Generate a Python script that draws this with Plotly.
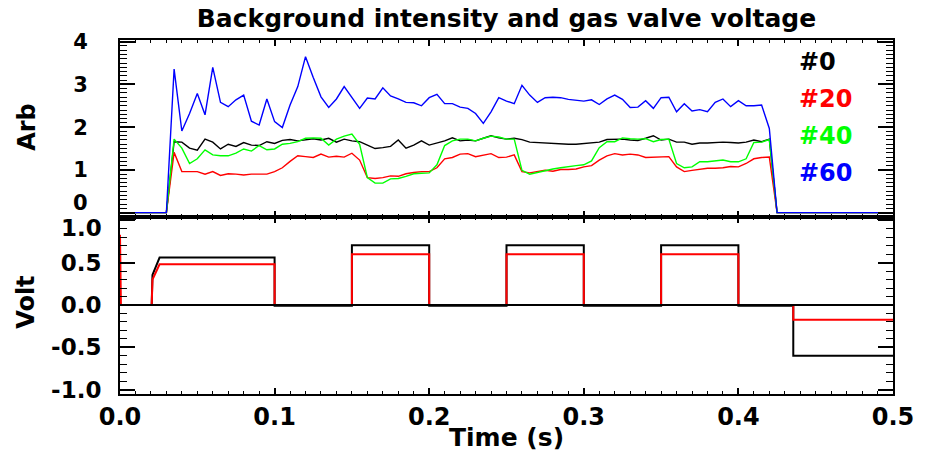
import plotly.graph_objects as go

# ---- sample times of the intensity signals (5 ms steps while the beam is on) ----
t_on = [round(0.035 + 0.005 * i, 3) for i in range(78)]   # 0.035 ... 0.420
t_intensity = [0.0, 0.03] + t_on + [0.425, 0.5]

# ---- background intensity (arb.) for the four channels, 0.035 ... 0.420 s ----
ch0 = [1.66, 1.65, 1.51, 1.46, 1.72, 1.65, 1.49, 1.60, 1.55, 1.64, 1.58, 1.57, 1.66, 1.62, 1.69, 1.71, 1.68, 1.70, 1.73,
       1.70, 1.74, 1.65, 1.72, 1.68, 1.66, 1.58, 1.50, 1.52, 1.55, 1.70, 1.51, 1.58, 1.68, 1.58, 1.63, 1.68, 1.75, 1.68, 1.70,
       1.68, 1.74, 1.80, 1.75, 1.72, 1.74, 1.71, 1.65, 1.64, 1.63, 1.61, 1.61, 1.60, 1.60, 1.62, 1.63, 1.65, 1.71, 1.71, 1.72,
       1.70, 1.69, 1.74, 1.80, 1.70, 1.72, 1.65, 1.65, 1.60, 1.63, 1.63, 1.64, 1.65, 1.64, 1.63, 1.65, 1.70, 1.66, 1.72]
ch20 = [1.41, 0.96, 0.96, 0.96, 0.90, 0.96, 0.87, 0.91, 0.90, 0.88, 0.90, 0.90, 0.90, 0.96, 1.05, 1.20, 1.33, 1.31, 1.29,
        1.37, 1.30, 1.32, 1.30, 1.39, 1.23, 0.82, 0.80, 0.82, 0.86, 0.85, 0.91, 0.94, 0.96, 0.96, 1.05, 1.26, 1.29, 1.37, 1.38,
        1.31, 1.35, 1.38, 1.29, 1.30, 1.35, 0.96, 0.93, 0.96, 0.99, 0.97, 1.01, 1.01, 1.02, 1.07, 1.10, 1.23, 1.33, 1.38, 1.35,
        1.37, 1.35, 1.29, 1.30, 1.30, 1.31, 1.07, 0.96, 0.99, 1.01, 1.04, 1.04, 1.05, 1.08, 1.07, 1.15, 1.26, 1.29, 1.30]
ch40 = [1.72, 1.51, 1.15, 1.26, 1.47, 1.35, 1.33, 1.33, 1.39, 1.49, 1.44, 1.57, 1.47, 1.49, 1.60, 1.62, 1.66, 1.74, 1.75,
        1.74, 1.58, 1.72, 1.79, 1.84, 1.60, 0.82, 0.69, 0.69, 0.79, 0.80, 0.85, 0.91, 0.92, 0.93, 1.12, 1.57, 1.68, 1.72, 1.72,
        1.68, 1.74, 1.79, 1.77, 1.72, 1.72, 0.99, 0.90, 0.94, 0.99, 1.02, 1.05, 1.08, 1.10, 1.12, 1.21, 1.52, 1.66, 1.66, 1.75,
        1.73, 1.72, 1.73, 1.66, 1.71, 1.72, 1.15, 1.05, 1.07, 1.19, 1.19, 1.21, 1.23, 1.19, 1.19, 1.26, 1.64, 1.65, 1.71]
ch60 = [3.36, 1.91, 2.32, 2.79, 2.29, 3.40, 2.58, 2.48, 2.64, 2.75, 2.14, 2.05, 2.66, 2.13, 1.99, 2.52, 2.95, 3.65, 3.16,
        2.71, 2.46, 2.66, 2.95, 2.69, 2.44, 2.68, 2.66, 2.92, 2.73, 2.66, 2.58, 2.57, 2.50, 2.69, 2.77, 2.55, 2.55, 2.47, 2.44,
        2.32, 2.09, 2.36, 2.69, 2.61, 2.55, 2.98, 2.75, 2.58, 2.69, 2.70, 2.69, 2.65, 2.63, 2.61, 2.64, 2.53, 2.66, 2.75, 2.65,
        2.46, 2.47, 2.62, 2.44, 2.69, 2.70, 2.36, 2.55, 2.38, 2.41, 2.36, 2.58, 2.66, 2.48, 2.62, 2.50, 2.50, 2.52, 1.97]
channel_names = ["#0", "#20", "#40", "#60"]
channel_colors = ["#000000", "#ff0000", "#00ff00", "#0000ff"]

# ---- gas valve voltage: two traces, stored as step corners ----
t_valve_a = [0.0, 0.0205, 0.021, 0.0256, 0.1, 0.1, 0.15, 0.15, 0.2, 0.2, 0.25, 0.25, 0.3, 0.3,
             0.35, 0.35, 0.4, 0.4, 0.4355, 0.4355, 0.5]
v_valve_a = [0.0, 0.0, 0.355, 0.56, 0.56, -0.008, -0.008, 0.705, 0.705, -0.008, -0.008, 0.705, 0.705, -0.008,
             -0.008, 0.705, 0.705, -0.008, -0.008, -0.60, -0.60]
t_valve_b = [0.0, 0.0006, 0.0205, 0.021, 0.0256, 0.1, 0.1, 0.15, 0.15, 0.2, 0.2, 0.25, 0.25, 0.3, 0.3,
             0.35, 0.35, 0.4, 0.4, 0.4355, 0.4355, 0.5]
v_valve_b = [0.83, 0.0, 0.0, 0.30, 0.48, 0.48, 0.0, 0.0, 0.60, 0.60, 0.0, 0.0, 0.60, 0.60, 0.0,
             0.0, 0.60, 0.60, 0.0, 0.0, -0.175, -0.175]

# ---- axis tick labels ----
arb_ticks = [0, 1, 2, 3, 4]
arb_labels = ["0", "1", "2", "3", "4"]
volt_ticks = [-1.0, -0.5, 0.0, 0.5, 1.0]
volt_labels = ["-1.0", "-0.5", "0.0", "0.5", "1.0"]
time_ticks = [0.0, 0.1, 0.2, 0.3, 0.4, 0.5]
time_labels = ["0.0", "0.1", "0.2", "0.3", "0.4", "0.5"]

FONT = "DejaVu Sans"

fig = go.Figure()

for vals, name, color in zip([ch0, ch20, ch40, ch60], channel_names, channel_colors):
    fig.add_trace(go.Scatter(
        x=t_intensity, y=[0.0, 0.0] + vals + [0.0, 0.0], mode="lines", name=name,
        line=dict(color=color, width=1.4), xaxis="x", yaxis="y", showlegend=False))

fig.add_trace(go.Scatter(x=t_valve_a, y=v_valve_a, mode="lines", line=dict(color="#000000", width=2),
                         xaxis="x2", yaxis="y2", showlegend=False))
fig.add_trace(go.Scatter(x=t_valve_b, y=v_valve_b, mode="lines", line=dict(color="#ff0000", width=2),
                         xaxis="x2", yaxis="y2", showlegend=False))

split = 0.501
tickfont_arb = dict(family=FONT, size=21, color="black", weight="bold")
tickfont_volt = dict(family=FONT, size=23, color="black", weight="bold")
tickfont_x = dict(family=FONT, size=24, color="black", weight="bold")

common_x = dict(range=[0, 0.5], showline=True, linewidth=2, linecolor="black", mirror="allticks",
                ticks="inside", ticklen=6, tickwidth=1.5, tickcolor="black",
                tickmode="array", tickvals=time_ticks, showgrid=False, zeroline=False,
                minor=dict(ticks="inside", ticklen=3, tickwidth=1.2, tickcolor="black",
                           tickmode="linear", tick0=0, dtick=0.01, showgrid=False))
common_y = dict(showline=True, linewidth=2, linecolor="black", mirror="allticks",
                ticks="inside", ticklen=15, tickwidth=1.5, tickcolor="black",
                showgrid=False, zeroline=False, tickmode="array")

# the end labels where the two panels meet are placed separately, nudged apart
arb_axis_text = [("" if v == 0 else s) for v, s in zip(arb_ticks, arb_labels)]
volt_axis_text = [("" if v == 1.0 else s) for v, s in zip(volt_ticks, volt_labels)]

fig.update_layout(
    width=926, height=452,
    margin=dict(l=120, r=26, t=40, b=58),
    paper_bgcolor="white", plot_bgcolor="white",
    xaxis=dict(anchor="y", showticklabels=False, **common_x),
    xaxis2=dict(anchor="y2", showticklabels=True, ticktext=time_labels, tickfont=tickfont_x,
                ticklabelstandoff=0, **common_x),
    yaxis=dict(domain=[split, 1], anchor="x", range=[-0.094, 4.04],
               tickvals=arb_ticks, ticktext=arb_axis_text, ticklabelstandoff=26, tickfont=tickfont_arb,
               minor=dict(ticks="inside", ticklen=7, tickwidth=1.2, tickcolor="black",
                          tickmode="linear", tick0=0, dtick=0.1, showgrid=False),
               **common_y),
    yaxis2=dict(domain=[0, split], anchor="x2", range=[-1.052, 1.044],
                tickvals=volt_ticks, ticktext=volt_axis_text, ticklabelstandoff=12, tickfont=tickfont_volt,
                minor=dict(ticks="inside", ticklen=7, tickwidth=1.2, tickcolor="black",
                           tickmode="linear", tick0=0, dtick=0.1, showgrid=False),
                **common_y),
    title=dict(text="Background intensity and gas valve voltage", x=0.5, xref="paper",
               y=1 - 18 / 452, yref="container", yanchor="middle", xanchor="center",
               font=dict(family=FONT, size=25, color="black", weight="bold")),
    showlegend=False,
)

# end labels at the panel junction
fig.add_annotation(text=arb_labels[0], xref="paper", yref="y", x=0, y=arb_ticks[0], xanchor="right",
                   yanchor="middle", xshift=-30, yshift=10, showarrow=False, font=tickfont_arb)
fig.add_annotation(text=volt_labels[-1], xref="paper", yref="y2", x=0, y=volt_ticks[-1], xanchor="right",
                   yanchor="middle", xshift=-16, yshift=-8, showarrow=False, font=tickfont_volt)

# zero reference in the voltage panel, drawn over the traces
fig.add_shape(type="line", xref="x2", yref="y2", x0=0, x1=0.5, y0=0, y1=0,
              line=dict(color="black", width=2), layer="above")

# axis titles
label_font = dict(family=FONT, size=24, color="black", weight="bold")
fig.add_annotation(text="Arb", xref="paper", yref="paper", x=(26 - 120) / 780, y=(394 - 127) / 354,
                   textangle=-90, showarrow=False, font=label_font, xanchor="center", yanchor="middle")
fig.add_annotation(text="Volt", xref="paper", yref="paper", x=(25 - 120) / 780, y=(394 - 302) / 354,
                   textangle=-90, showarrow=False, font=label_font, xanchor="center", yanchor="middle")
fig.add_annotation(text="Time (s)", xref="paper", yref="paper", x=0.5, y=(394 - 437) / 354,
                   showarrow=False, font=dict(family=FONT, size=25, color="black", weight="bold"),
                   xanchor="center", yanchor="middle")

# channel labels
for i, (name, color) in enumerate(zip(channel_names, channel_colors)):
    fig.add_annotation(text=name, xref="paper", yref="paper", x=(803 - 120) / 780,
                       y=(394 - (62 + 37 * i)) / 354, showarrow=False, xanchor="left", yanchor="middle",
                       font=dict(family=FONT, size=24, color=color, weight="bold"))

fig.write_html("out.html")
